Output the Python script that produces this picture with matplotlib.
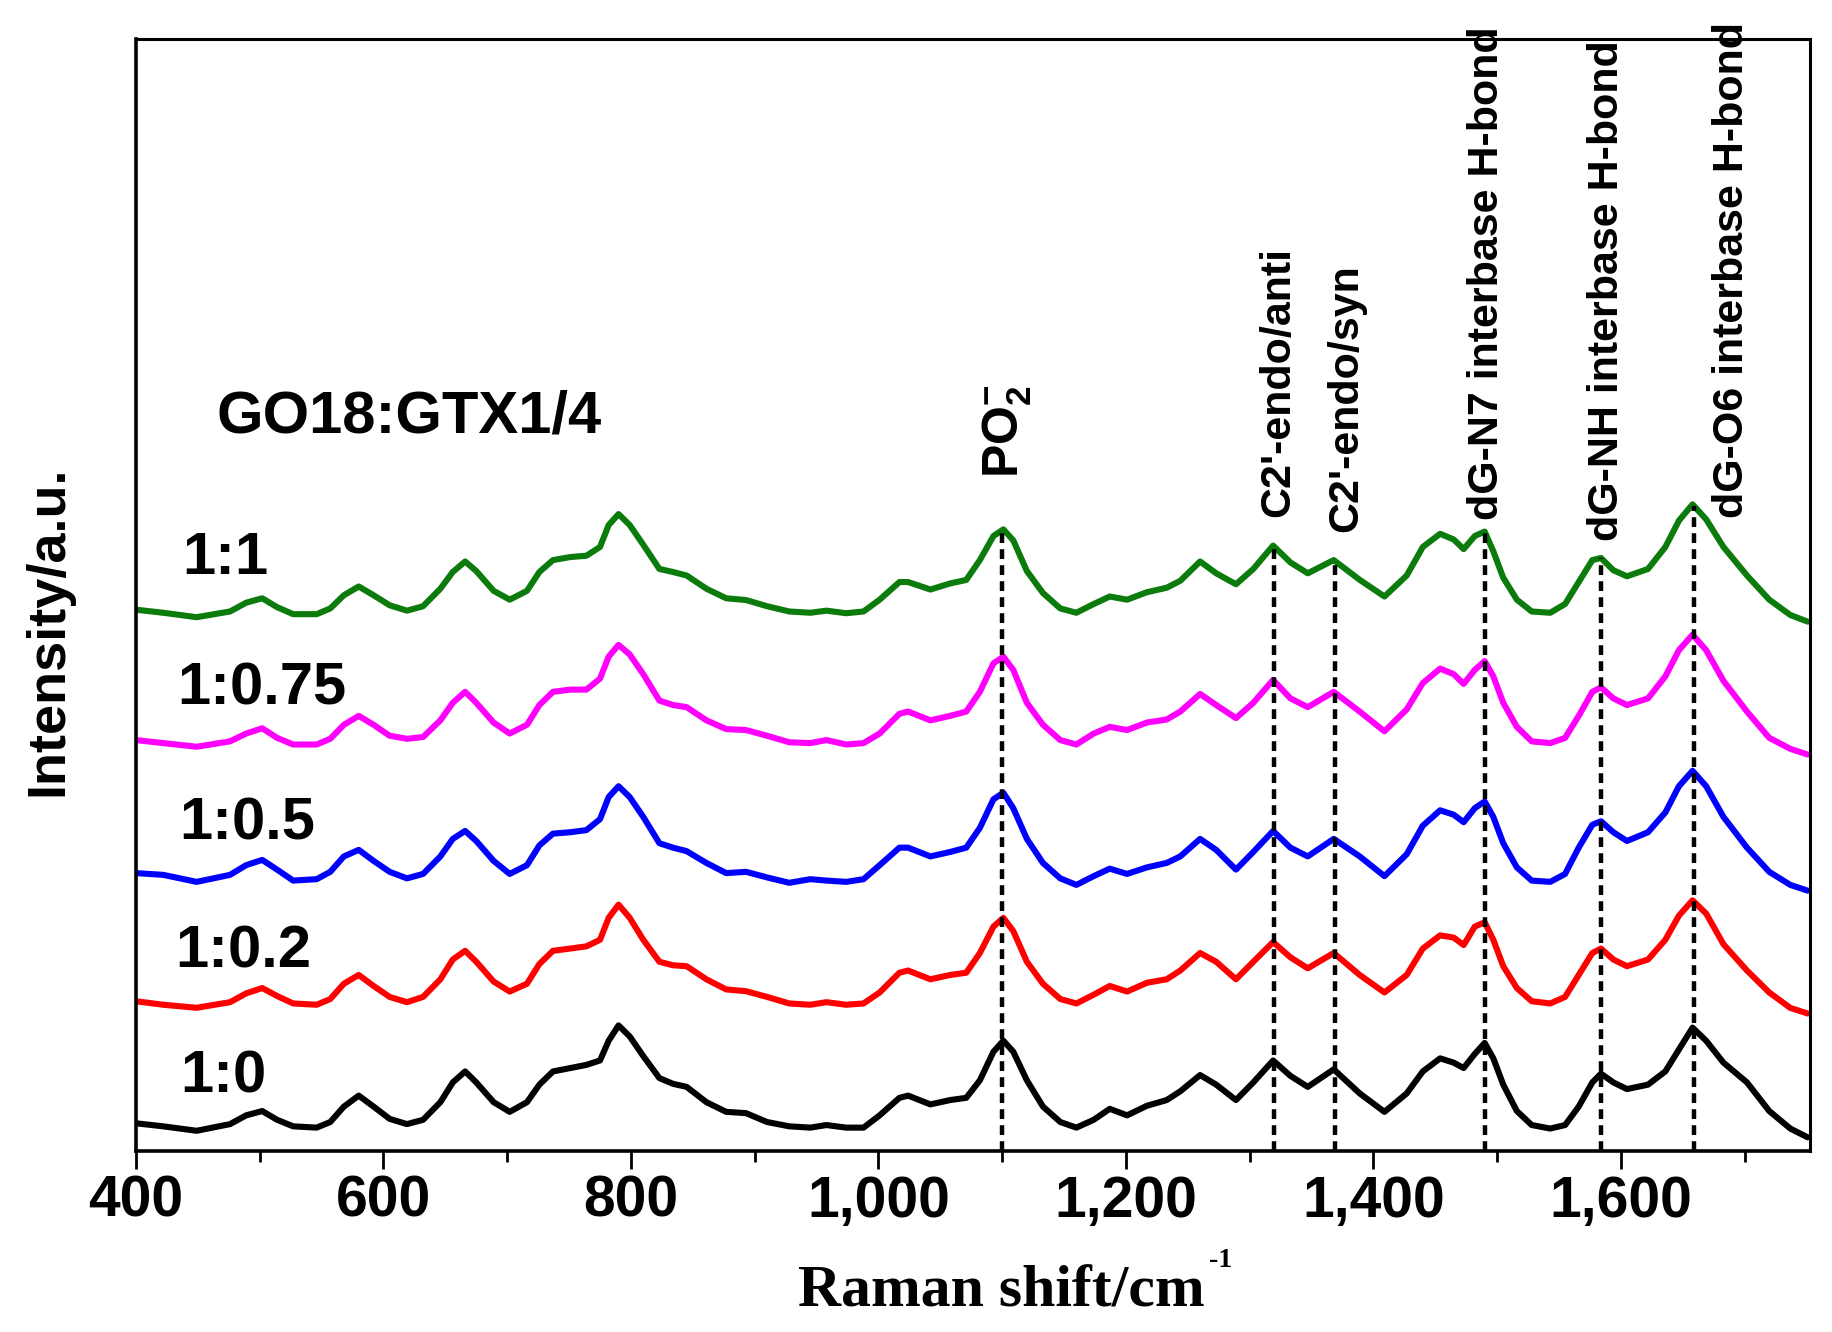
import numpy as np
import matplotlib
matplotlib.use("Agg")
import matplotlib.pyplot as plt
from matplotlib.ticker import FuncFormatter, MultipleLocator

plt.rcParams['font.family'] = ['Liberation Sans', 'DejaVu Sans']
plt.rcParams['font.weight'] = 'bold'
plt.rcParams['mathtext.fontset'] = 'custom'
plt.rcParams['mathtext.rm'] = 'Liberation Sans:bold'
plt.rcParams['mathtext.bf'] = 'Liberation Sans:bold'

# Raman shift (cm-1) and stacked spectra (offset intensities, a.u.)
shift = [400, 422, 449, 476, 489, 502, 514, 527, 546, 557, 568, 580, 592, 605, 619, 632, 646, 656, 666, 675,
         689, 702, 716, 726, 737, 751, 764,
         775, 782, 790, 799, 810, 823, 834, 845, 861, 877, 893, 910, 928, 945, 958, 974, 988,
         1001, 1017, 1024, 1042, 1058, 1071, 1082, 1093, 1101, 1109, 1120, 1133, 1147, 1160, 1174, 1187,
         1201, 1217, 1233, 1244, 1260, 1273, 1289, 1303, 1319, 1333, 1347, 1368,
         1389, 1409, 1427, 1440, 1454, 1465, 1473, 1482, 1490, 1497, 1505, 1516, 1528, 1543, 1555, 1566,
         1577, 1584, 1594, 1605, 1622, 1636, 1647, 1658, 1669, 1683, 1702, 1720, 1737, 1751]

i_1_0 = [23.7, 21.1, 17.3, 23.0, 30.5, 34.2, 26.7, 21.1, 20.0, 24.8, 38.0, 47.4, 38.0, 27.5, 23.0, 26.7,
         41.8, 58.7, 68.1, 58.7, 41.8, 33.5, 41.8, 56.8, 68.1, 71.0, 73.7,
         77.5, 94.4, 107.5, 98.1, 81.2, 62.4, 57.5, 54.9, 41.8, 33.5, 32.4, 24.8, 21.1, 20.0, 22.2, 20.0, 20.0,
         30.5, 45.5, 47.4, 39.9, 43.6, 45.5, 60.5, 85.0, 94.4, 85.0, 60.5, 38.0, 24.8, 20.0, 26.7, 36.1,
         30.5, 38.7, 43.6, 51.1, 65.0, 56.8, 43.6, 58.7, 77.5, 64.3, 54.9, 69.9,
         49.3, 33.5, 49.3, 68.1, 79.3, 75.6, 71.0, 83.1, 92.5, 79.3, 56.8, 34.2, 22.2, 19.2, 22.2, 38.0,
         58.7, 66.2, 58.7, 53.0, 56.8, 68.1, 86.9, 105.6, 94.4, 75.6, 58.7, 34.2, 19.2, 11.7]

i_1_02 = [128.2, 125.2, 122.6, 127.4, 134.9, 139.5, 132.7, 126.3, 125.2, 130.1, 143.2, 150.7, 141.3, 131.9,
          127.4, 131.9, 147.0, 163.9, 171.4, 162.0, 145.1, 136.5, 143.2, 160.1, 171.4, 173.3, 175.2,
          180.8, 199.6, 210.9, 199.6, 180.8, 162.0, 159.0, 158.2, 147.0, 138.3, 136.8, 131.9, 126.3, 125.2,
          127.4, 125.2, 126.3,
          135.7, 152.6, 154.5, 147.0, 150.7, 152.6, 169.5, 192.1, 199.6, 188.3, 162.0, 143.2, 130.1, 126.3,
          133.8, 141.3, 136.5, 144.0, 147.0, 154.5, 169.5, 162.0, 147.0, 162.0, 178.9, 165.8, 156.4, 169.5,
          150.7, 135.7, 150.7, 173.3, 184.6, 182.7, 176.3, 192.1, 195.8, 180.8, 158.2, 139.5, 128.2, 126.3,
          131.9, 150.7, 169.5, 173.3, 163.9, 158.2, 163.9, 180.8, 201.5, 214.6, 203.3, 177.0, 154.5, 135.7,
          122.5, 117.7]

i_1_05 = [237.9, 236.4, 230.4, 236.4, 244.7, 249.2, 240.9, 231.5, 232.7, 239.0, 252.2, 257.8, 248.4, 239.0,
          233.4, 237.2, 252.2, 267.2, 274.0, 265.4, 248.4, 237.2, 244.7, 261.6, 271.7, 272.9, 274.7,
          284.1, 303.0, 312.3, 303.0, 286.0, 263.5, 259.7, 256.7, 246.6, 237.9, 239.0, 234.2, 229.6, 232.7,
          231.5, 230.4, 232.7,
          244.7, 259.7, 259.7, 252.2, 256.0, 259.7, 276.6, 301.1, 306.7, 293.5, 267.2, 246.6, 233.4, 227.8,
          235.3, 241.7, 237.2, 242.8, 246.6, 252.2, 267.2, 257.8, 240.9, 256.0, 274.0, 259.7, 252.2, 267.2,
          252.2, 235.3, 254.1, 278.5, 291.7, 287.9, 281.5, 293.5, 299.2, 286.0, 263.5, 242.8, 231.5, 230.4,
          237.2, 259.7, 279.3, 282.3, 272.9, 265.4, 272.9, 289.8, 312.3, 325.5, 312.3, 286.0, 259.7, 239.0,
          227.8, 222.9]

i_1_075 = [351.8, 349.2, 346.1, 350.7, 357.4, 361.9, 353.7, 348.0, 348.0, 352.9, 364.9, 372.5, 364.9, 355.5,
           352.9, 354.4, 368.7, 383.7, 393.1, 383.7, 366.8, 357.4, 364.9, 381.8, 393.1, 395.0, 395.0,
           404.4, 423.2, 433.3, 425.1, 408.2, 385.6, 381.8, 380.0, 368.7, 361.2, 360.4, 355.5, 349.9, 349.2,
           351.8, 348.0, 349.2,
           357.4, 374.3, 376.2, 368.7, 372.5, 376.2, 393.1, 417.5, 423.2, 411.9, 383.7, 364.9, 351.8, 348.0,
           357.4, 363.1, 360.4, 366.8, 369.4, 376.2, 391.3, 381.8, 370.6, 383.7, 403.3, 387.5, 380.0, 393.1,
           376.2, 359.3, 378.1, 400.6, 413.0, 408.2, 399.9, 411.9, 419.4, 406.3, 383.7, 363.1, 350.7, 349.2,
           353.7, 372.5, 393.1, 396.9, 387.5, 381.8, 387.5, 406.3, 428.8, 442.0, 428.8, 402.5, 376.2, 353.7,
           344.3, 339.4]

i_1_1 = [463.4, 460.8, 457.0, 461.9, 469.4, 473.2, 465.6, 459.6, 459.6, 464.5, 475.8, 483.3, 475.8, 467.2,
         462.6, 466.4, 481.4, 495.7, 504.7, 496.5, 479.6, 472.0, 479.6, 495.7, 505.9, 508.5, 509.6,
         517.1, 535.9, 545.3, 535.9, 519.0, 498.3, 495.7, 492.7, 481.4, 473.2, 471.7, 466.4, 461.9, 460.8,
         462.6, 460.4, 461.9,
         472.0, 487.1, 487.1, 480.7, 485.9, 488.9, 505.9, 526.5, 532.2, 522.8, 496.5, 477.7, 464.5, 460.8,
         468.3, 474.7, 472.0, 478.4, 482.2, 488.2, 504.7, 494.6, 485.2, 498.3, 518.3, 503.9, 494.6, 505.9,
         489.0, 474.7, 492.7, 517.1, 528.4, 523.5, 515.3, 526.5, 530.3, 513.4, 490.8, 472.0, 461.9, 460.8,
         468.3, 487.1, 505.9, 507.7, 497.2, 492.0, 498.3, 517.1, 539.7, 553.6, 540.8, 517.1, 492.7, 472.0,
         458.9, 453.2]

ratio_labels = ["1:0", "1:0.2", "1:0.5", "1:0.75", "1:1"]
ratio_colors = ["black", "#ff0000", "#0000ff", "#ff00ff", "#0b7b0b"]
ratio_label_pos = [(436, 50), (432, 157), (435, 267), (433, 382), (437, 494)]

# assigned bands: position of dashed line, text, where the rotated text sits
band_pos = [1100, 1320, 1369, 1490, 1584, 1659]
band_text = [r"PO$_\mathbf{2}^\mathbf{-}$", "C2'-endo/anti", "C2'-endo/syn",
             "dG-N7 interbase H-bond", "dG-NH interbase H-bond", "dG-O6 interbase H-bond"]
band_text_pos = [(1104, 576), (1323, 543), (1378, 530), (1492, 540), (1589, 522), (1690, 542)]
band_text_size = [36, 31, 31, 31, 31, 31]

fig = plt.figure(figsize=(18.33, 13.32), dpi=100)
ax = fig.add_axes([0.0742, 0.1359, 0.9133, 0.8348])

spectra = [i_1_0, i_1_02, i_1_05, i_1_075, i_1_1]
for y, lab, col, pos in zip(spectra, ratio_labels, ratio_colors, ratio_label_pos):
    ax.plot(shift, y, color=col, lw=4.4, solid_joinstyle='round', solid_capstyle='round', zorder=2)
    ax.text(pos[0], pos[1], lab, fontsize=43, fontweight='bold', ha='left', va='baseline')

# dashed guide lines run from the axis up to the top spectrum
tops = np.interp(band_pos, shift, i_1_1)
ax.vlines(band_pos, 0, tops, colors='black', linewidth=3.2, linestyles=(0, (2.2, 1.4)), zorder=3)

for txt, pos, fs in zip(band_text, band_text_pos, band_text_size):
    ax.text(pos[0], pos[1], txt, rotation=90, fontsize=fs, fontweight='bold',
            ha='center', va='bottom')

ax.text(465, 615, "GO18:GTX1/4", fontsize=43, fontweight='bold', ha='left', va='baseline')

ax.set_xlim(400, 1753)
ax.set_ylim(0, 952)
ax.set_yticks([])
ax.xaxis.set_major_locator(MultipleLocator(200))
ax.xaxis.set_minor_locator(MultipleLocator(100))
ax.xaxis.set_major_formatter(FuncFormatter(lambda v, p: f"{int(v):,}"))
ax.tick_params(axis='x', which='major', direction='out', length=13, width=2.0, pad=4, labelsize=41)
ax.tick_params(axis='x', which='minor', direction='out', length=8, width=2.0)
for lbl in ax.get_xticklabels():
    lbl.set_fontweight('bold')

for side in ['left', 'bottom']:
    ax.spines[side].set_linewidth(2.6)
for side in ['top', 'right']:
    ax.spines[side].set_linewidth(2.2)

ax.text(-0.0373, 0.4676, "Intensity/a.u.", transform=ax.transAxes, rotation=90,
        fontsize=39, fontweight='bold', ha='right', va='center')

xl = fig.text(0.4353, 0.0195, "Raman shift/cm", fontsize=43, fontweight='bold',
              family=['Liberation Serif', 'DejaVu Serif'], ha='left', va='baseline')
ax.annotate("-1", xy=(1.0, 1.0), xycoords=xl, xytext=(3, 12), textcoords='offset points',
            fontsize=20, fontweight='bold', family=['Liberation Serif', 'DejaVu Serif'],
            ha='left', va='top', annotation_clip=False)

fig.savefig("out.png", dpi=100)
